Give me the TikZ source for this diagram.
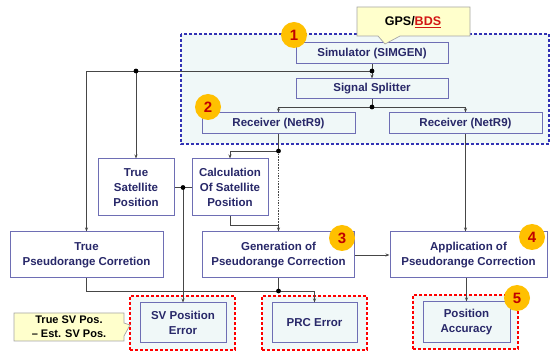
\documentclass[tikz,border=0pt]{standalone}
\usepackage{fontspec}
\setmainfont{Liberation Sans}
\usepackage{tikz}
\usetikzlibrary{arrows.meta}
\definecolor{boxline}{RGB}{110,110,180}
\definecolor{navy}{RGB}{40,40,105}
\definecolor{paleteal}{RGB}{240,248,248}
\definecolor{regionblue}{RGB}{50,50,180}
\definecolor{linegrey}{RGB}{70,70,70}
\definecolor{noteyellow}{RGB}{255,255,204}
\definecolor{notegrey}{RGB}{165,165,165}
\definecolor{badgegold}{RGB}{255,192,0}
\definecolor{badgered}{RGB}{192,0,0}
\definecolor{bdsred}{RGB}{210,20,20}
\tikzset{
  box/.style={draw=boxline, line width=1pt, fill=white, text=navy, align=center,
    inner sep=0pt, font=\fontsize{11.5}{15}\selectfont\bfseries},
  inbox/.style={box, fill=paleteal},
  redframe/.style={draw=red, line width=1.3pt, dash pattern=on 3pt off 2pt, fill=paleteal, inner sep=0pt},
  conn/.style={draw=linegrey, line width=0.7pt},
  badge/.style={circle, fill=badgegold, minimum size=26pt, inner sep=0pt, text=badgered,
    font=\fontsize{15}{15}\selectfont\bfseries},
  note/.style={text=black, align=center, font=\fontsize{11}{14}\selectfont\bfseries}
}
\begin{document}
\begin{tikzpicture}[x=1pt,y=-1pt,>={Stealth[length=4pt,width=3pt]}]
                        \useasboundingbox (0,0) rectangle (552,352);
                        \draw[draw=regionblue, line width=1.3pt, dash pattern=on 3pt off 2pt, fill=paleteal] (181,34) rectangle (549,144);

                        \node[inbox, minimum width=152pt, minimum height=21pt] (sim) at (372,53.5) {Simulator (SIMGEN)};
                        \node[inbox, minimum width=152pt, minimum height=20pt] (split) at (372,89) {Signal Splitter};
                        \node[inbox, minimum width=153pt, minimum height=21pt] (recl) at (278.5,123.5) {Receiver (NetR9)};
                        \node[inbox, minimum width=153pt, minimum height=21pt] (recr) at (465.5,123.5) {Receiver (NetR9)};

                        \node[box, minimum width=76pt, minimum height=57pt] (truesat) at (136,187.5) {True\\Satellite\\Position};
                        \node[box, minimum width=76pt, minimum height=57pt] (calc) at (230,187.5) {Calculation\\Of Satellite\\Position};

                        \node[box, minimum width=153pt, minimum height=46pt] (truepr) at (86.5,255) {True\\Pseudorange Corretion};
                        \node[box, minimum width=152pt, minimum height=46pt] (gen) at (278.5,255) {Generation of\\Pseudorange Correction};
                        \node[box, minimum width=157pt, minimum height=46pt] (app) at (468.5,255) {Application of\\Pseudorange Correction};

                        \node[redframe, minimum width=105pt, minimum height=54pt] (sverrframe) at (182.5,323) {};
                        \node[redframe, minimum width=105pt, minimum height=54pt] (prcerrframe) at (314.5,323) {};
                        \node[redframe, minimum width=105pt, minimum height=54pt] (posaccframe) at (465.5,322) {};
                        \node[inbox, minimum width=86pt, minimum height=40pt] (sverr) at (183,323) {SV Position\\Error};
                        \node[inbox, minimum width=85pt, minimum height=40pt] (prcerr) at (314.5,323) {PRC Error};
                        \node[inbox, minimum width=87pt, minimum height=41pt] (posacc) at (466.5,322.5) {Position\\Accuracy};

                        \coordinate (j1) at (372,71);
                        \path (truesat.north |- j1) coordinate (j2);
                        \coordinate (j3) at (372,107);
                        \coordinate (j4) at (278.5,151);
                        \coordinate (j5) at (183,187.5);
                        \coordinate (j6) at (278.5,291);
                        \coordinate (c1) at (278.5,225);

                        \draw[conn,->] (sim.south) -- (split.north);
                        \draw[conn,->] (j1) -| (truepr.north);
                        \draw[conn,->] (j2) -- (truesat.north);
                        \draw[conn] (split.south) -- (j3);
                        \draw[conn,->] (j3) -| (recl.north);
                        \draw[conn,->] (j3) -| (recr.north);
                        \draw[conn] (recl.south) -- (j4);
                        \draw[conn,->] (j4) -| (calc.north);
                        \draw[conn, dash pattern=on 1.5pt off 1.2pt] (j4) -- (c1);
                        \draw[conn] (calc.south) |- (c1);
                        \draw[conn,->] (c1) -- (gen.north);
                        \draw[conn] (truesat.east) -- (calc.west);
                        \draw[conn,->] (j5) -- (sverr.north);
                        \draw[conn] (truepr.south) |- (j6);
                        \draw[conn,->] (gen.south) -- (j6) -| (prcerr.north);
                        \draw[conn,->] (recr.south) -- (recr.south |- app.north);
                        \draw[conn,->] (gen.east) -- (app.west);
                        \draw[conn,->] (app.south -| posacc.north) -- (posacc.north);
                        \foreach \j in {j1,j2,j3,j4,j5,j6}
                          \fill[black] (\j) circle (2.4pt);

                        \node[badge] (b1) at (294,35) {1};
                        \node[badge] (b2) at (208,107) {2};
                        \node[badge] (b3) at (342,238) {3};
                        \node[badge] (b4) at (532,237) {4};
                        \node[badge] (b5) at (517,298) {5};

                        \draw[draw=notegrey, line width=0.7pt, fill=noteyellow] (357,7) -- (470,7) -- (470,36) -- (400,36) -- (385,44) -- (378,36) -- (357,36) -- cycle;
                        \node[note, font=\fontsize{12.5}{14}\selectfont\bfseries] (gnss) at (413,22) {GPS/\textcolor{bdsred}{\underline{BDS}}};
                        \draw[draw=notegrey, line width=0.7pt, fill=noteyellow] (14,313) -- (124,313) -- (124,323) -- (130,325) -- (124,336) -- (124,341) -- (14,341) -- cycle;
                        \node[note] (svnote) at (69,327) {True SV Pos.\\-- Est. SV Pos.};
                    \end{tikzpicture}
\end{document}
